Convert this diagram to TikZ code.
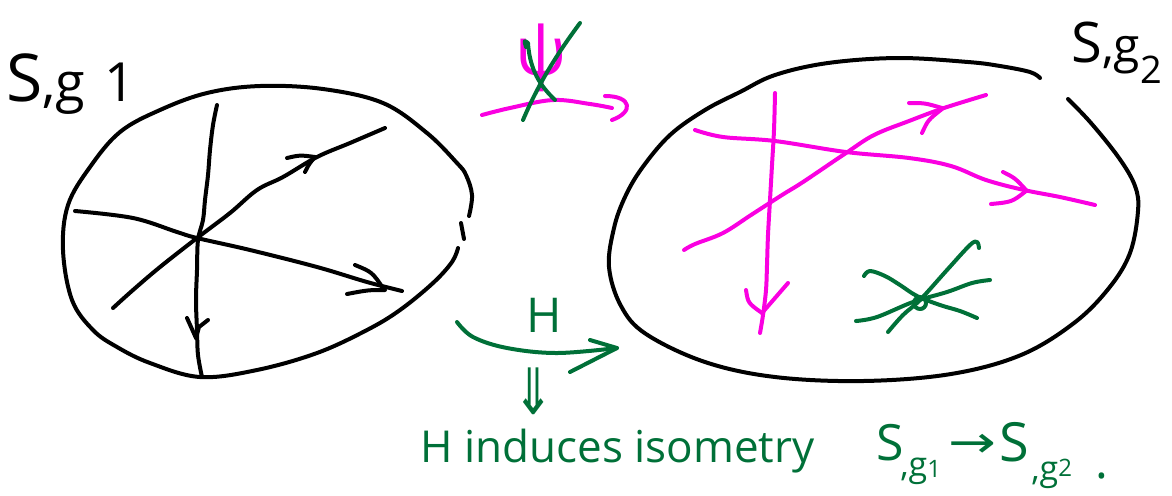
\documentclass[tikz,border=0pt]{standalone}
\usepackage{fontspec}
\setmainfont{Open Sans}
\newfontfamily\symfont{DejaVu Sans}
\definecolor{inkmag}{RGB}{250,0,225}
\definecolor{inkgrn}{RGB}{0,112,56}
\newcommand{\fs}[1]{\fontsize{#1}{#1}\selectfont}
\begin{document}
\begin{tikzpicture}[x=0.5pt,y=-0.5pt,
 ink/.style={line width=2pt,line cap=round,line join=round},
 blk/.style={ink,draw=black},
 mag/.style={ink,draw=inkmag},
 grn/.style={ink,draw=inkgrn},
 lbl/.style={inner sep=0pt,anchor=base west},
 gtxt/.style={inner sep=0pt,text=inkgrn}]
\useasboundingbox (0,0) rectangle (1172,495);

% ---------- left surface ----------
\draw[blk] plot[smooth,tension=0.6] coordinates {(469,216) (472,195) (466,175) (457,163) (427,133) (383,103) (323,89) (260,86) (207,93) (160,110) (120,132) (90,167) (68,205) (63,250) (72,300) (93,330) (117,347) (150,363) (200,377) (257,370) (317,353) (367,330) (400,310) (433,283) (452,262) (458,248)};
\draw[blk] (461,223) -- (464,239);
% vertical geodesic
\draw[blk] plot[smooth,tension=0.6] coordinates {(217,105) (213,125) (210,150) (208,175) (205,200) (203,220) (198,240) (197,270) (196,300) (197,330) (198,355) (202,377)};
\draw[blk] (187,318) -- (196,338);
\draw[blk] (208,320) -- (199,327) -- (196,338);
% diagonal geodesic
\draw[blk] plot[smooth,tension=0.6] coordinates {(113,308) (133,290) (160,267) (197,238) (230,213) (257,190) (283,177) (317,157) (350,143) (385,128)};
\draw[blk] (287,158) .. controls (300,155) .. (315,157);
\draw[blk] (305,172) .. controls (309,164) .. (315,157);
% horizontal geodesic
\draw[blk] plot[smooth,tension=0.6] coordinates {(75,211) (133,218) (177,232) (197,238) (250,250) (317,267) (367,282) (402,291)};
\draw[blk] (355,265) .. controls (372,272) .. (383,288);
\draw[blk] (347,294) .. controls (368,290) .. (385,290);

\node[lbl] (lg1) at (6,101) {{\fs{33}S}{\fs{27},g\hspace{0.35em}1}};

% ---------- psi crossed out ----------
\node[inner sep=0pt,text=inkmag,font=\fs{34}] (psi) at (541,58) {ψ};
\draw[mag] plot[smooth,tension=0.6] coordinates {(482,115) (510,108) (553,100) (590,104) (612,108)};
\draw[mag] (605,96) .. controls (632,96) and (634,112) .. (612,120);
\draw[grn] (523,120) .. controls (540,80) and (560,50) .. (580,23);
\draw[grn] (526,47) .. controls (524,40) .. (528,43) .. controls (530,75) and (545,90) .. (555,100);

% ---------- H arrow ----------
\draw[grn] plot[smooth,tension=0.6] coordinates {(457,322) (473,337) (507,348) (557,353) (617,348)};
\draw[grn] (590,340) -- (617,348) -- (570,372);
\node[gtxt,font=\fs{24}] (H) at (544,315) {H};
\node[gtxt,font=\symfont\fs{32}] (imp) at (534,391) {\scalebox{0.75}[1]{⇓}};

% ---------- right surface ----------
\draw[blk] plot[smooth,tension=0.6] coordinates {(1040,78) (1030,72) (1000,66) (968,62) (898,58) (828,63) (775,75) (740,92) (705,110) (670,135) (642,168) (625,197) (614,228) (609,267) (621,306) (646,334) (705,362) (775,377) (863,381) (951,374) (1021,355) (1074,323) (1109,288) (1130,253) (1138,211) (1135,186) (1119,158) (1091,123) (1068,99)};
\node[lbl] (lg2) at (1071,62) {{\fs{28}S}{\fs{24},g\raisebox{-0.45em}{\fs{19}2}}};

% magenta geodesics
\draw[mag] plot[smooth,tension=0.6] coordinates {(775,93) (774,130) (772,165) (770,200) (768,235) (767,265) (766,290) (763,315) (760,333)};
\draw[mag] (746,290) .. controls (748,303) .. (762,313);
\draw[mag] (788,283) -- (762,313);
\draw[mag] plot[smooth,tension=0.6] coordinates {(695,130) (723,137) (775,141) (846,152) (909,158) (951,166) (986,180) (1024,190) (1060,197) (1095,205)};
\draw[mag] (1003,172) .. controls (1015,178) .. (1026,190);
\draw[mag] (991,204) .. controls (1012,202) .. (1026,191);
\draw[mag] plot[smooth,tension=0.6] coordinates {(684,250) (695,244) (723,233) (751,215) (782,195) (803,182) (846,153) (874,135) (909,121) (944,108) (986,95)};
\draw[mag] (909,103) .. controls (925,103) .. (942,108);
\draw[mag] (922,133) .. controls (928,120) .. (942,109);

% green star
\draw[grn] plot[smooth,tension=0.6] coordinates {(864,276) (870,271) (885,276) (900,285) (917,296) (940,305) (960,311) (977,318)};
\draw[grn] plot[smooth,tension=0.6] coordinates {(856,321) (877,317) (913,302) (947,292) (972,283) (990,280)};
\draw[grn] plot[smooth,tension=0.6] coordinates {(888,332) (903,315) (920,300) (947,270) (970,245) (977,242) (979,248)};
\draw[grn] (920,303) circle[radius=6];

% ---------- bottom sentence ----------
\node[gtxt,anchor=base west,font=\fs{22}] (sent) at (420,462) {H induces isometry};
\node[gtxt,anchor=base west,font=\fs{25}] (s1) at (876,460) {S};
\node[gtxt,anchor=base west,font=\fs{17}] (sub1) at (900,476) {,g\raisebox{-0.05em}{\fs{12}1}};
\node[gtxt,font=\symfont\fs{22}] (arr) at (972,446) {\scalebox{1.3}[1]{→}};
\node[gtxt,anchor=base west,font=\fs{27}] (s2) at (999,461) {S};
\node[gtxt,anchor=base west,font=\fs{17}] (sub2) at (1031,480) {,g\raisebox{0.1em}{\fs{12}2}};
\node[gtxt,anchor=base,font=\fs{24}] (dot) at (1102,478) {.};
\end{tikzpicture}
\end{document}
